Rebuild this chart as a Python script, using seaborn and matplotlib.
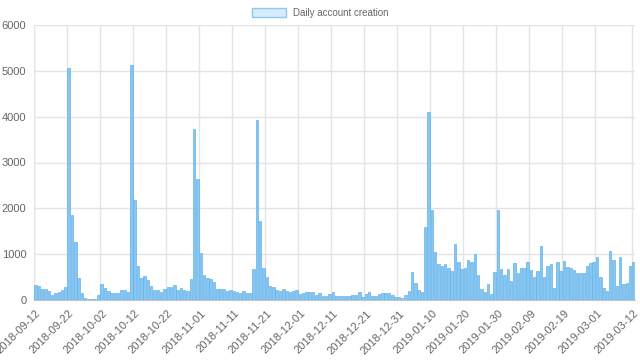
import pandas as pd
import matplotlib.pyplot as plt
import seaborn as sns
from matplotlib.patches import Patch

# one bar per day, 2018-09-12 .. 2019-03-12
dates = pd.date_range("2018-09-12", "2019-03-12", freq="D").strftime("%Y-%m-%d").tolist()

accounts = [
    337, 300, 242, 242, 198, 110, 154, 183, 220, 293,
    5060, 1850, 1260, 476, 147, 37, 22, 12, 12, 110,
    344, 271, 205, 161, 161, 161, 220, 220, 176, 5130,
    2175, 747, 476, 527, 440, 315, 227, 227, 176, 242,
    278, 278, 322, 227, 264, 227, 198, 454, 3730, 2640,
    1018, 550, 490, 454, 396, 242, 242, 242, 198, 227,
    205, 168, 154, 190, 154, 154, 681, 3930, 1722, 689,
    505, 308, 278, 220, 198, 234, 198, 176, 190, 212,
    132, 147, 176, 168, 183, 110, 147, 95, 95, 132,
    168, 80, 80, 95, 95, 95, 110, 117, 176, 73,
    139, 168, 80, 80, 132, 154, 147, 147, 110, 66,
    73, 51, 117, 205, 615, 366, 220, 183, 1582, 4110,
    1965, 1050, 784, 747, 784, 696, 637, 1223, 820, 667,
    696, 864, 835, 996, 542, 242, 168, 352, 139, 620,
    1965, 674, 545, 674, 418, 806, 586, 707, 707, 824,
    659, 495, 630, 1180, 498, 733, 784, 252, 824, 626,
    846, 729, 700, 645, 600, 590, 590, 745, 810, 835,
    940, 495, 260, 190, 1070, 875, 296, 940, 348, 370,
    747, 835,
]

# chart.js style autoskip: every 10th label plus the last one
label_idx = list(range(0, 171, 10)) + [len(dates) - 1]

df = pd.DataFrame({"date": dates, "accounts": accounts})

sns.set_style("white")
plt.rcParams["font.family"] = ["Liberation Sans", "DejaVu Sans"]

fig = plt.figure(figsize=(6.4, 3.61), dpi=100)
ax = fig.add_axes([34 / 640, 61 / 361, 601 / 640, 275 / 361])

sns.barplot(data=df, x="date", y="accounts", color="#88c6f2", saturation=1,
            width=0.75, edgecolor="#62b2ea", linewidth=0.5, ax=ax, zorder=3)

ax.set_xlim(-0.5, len(dates) - 0.5)
ax.set_ylim(0, 6000)
ax.set_yticks(range(0, 6001, 1000))
ax.set_xlabel("")
ax.set_ylabel("")

# labels at bar centres, grid lines at bar left edges
ax.set_xticks(label_idx)
ax.set_xticklabels([dates[i] for i in label_idx], rotation=45, ha="right",
                   rotation_mode="anchor", color="#666666", fontsize=8)
ax.set_xticks([i - 0.5 for i in label_idx], minor=True)
ax.tick_params(axis="x", which="major", length=0, pad=6)
ax.tick_params(axis="x", which="minor", length=4.5, color="#e4e4e4", width=1)
ax.tick_params(axis="y", length=4.5, color="#e4e4e4", width=1, labelsize=8,
               labelcolor="#666666", pad=1)

ax.xaxis.grid(True, which="minor", color="#e4e4e4", lw=1)
ax.xaxis.grid(False, which="major")
ax.yaxis.grid(True, color="#e4e4e4", lw=1)
ax.set_axisbelow(True)

for side in ["top", "right"]:
    ax.spines[side].set_visible(False)
ax.spines["left"].set_color("#e4e4e4")
ax.spines["bottom"].set_color("#c4c4c4")

handle = Patch(facecolor="#d7ebfb", edgecolor="#8cc8f4", lw=1,
               label="Daily account creation")
fig.legend(handles=[handle], loc="upper center", bbox_to_anchor=(0.5, 1.0),
           frameon=False, handlelength=3.5, handleheight=1.1, fontsize=7,
           labelcolor="#666666", borderaxespad=0.4, handletextpad=0.7)

fig.savefig("out.png", dpi=100)
